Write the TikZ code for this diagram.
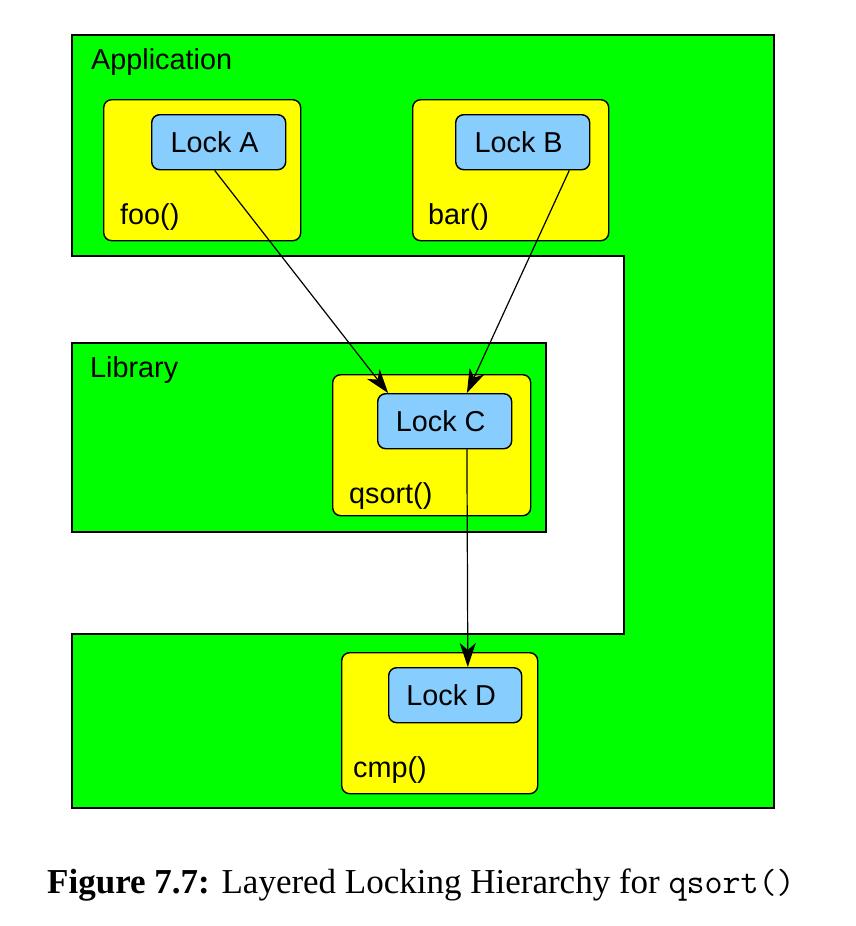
\documentclass[tikz,border=0pt]{standalone}
\usepackage{fontspec}
\setmainfont{Liberation Serif}
\newfontfamily\arialfont{Liberation Sans}
\usetikzlibrary{arrows.meta,calc}
\definecolor{figgreen}{RGB}{0,255,0}
\definecolor{figyellow}{RGB}{255,255,0}
\definecolor{figblue}{RGB}{135,206,255}
\tikzset{
  region/.style={draw=black, fill=figgreen, line width=1.2pt},
  funcbox/.style={draw=black, fill=figyellow, line width=1.4pt, rounded corners=8pt,
    rectangle, minimum width=#1, minimum height=141pt, inner sep=0pt, anchor=north west},
  lockbox/.style={draw=black, fill=figblue, line width=1.4pt, rounded corners=8pt,
    rectangle, minimum width=134pt, minimum height=55pt, inner sep=0pt, anchor=north west,
    font=\arialfont\fontsize{28.8}{30}\selectfont},
  lbl/.style={anchor=base west, inner sep=0pt, font=\arialfont\fontsize{28.8}{30}\selectfont},
  dep/.style={line width=1.2pt, -{Stealth[length=24pt,width=16pt,inset=7pt]}}
}
\begin{document}
\begin{tikzpicture}[x=1pt,y=-1pt]
\useasboundingbox (0,0) rectangle (856,926);
% Application region
\draw[region] (72,35) -- (774,35) -- (774,808) -- (72,808) -- (72,634)
  -- (624,634) -- (624,256) -- (72,256) -- cycle;
% Library region
\draw[region] (72,343) rectangle (546,532);
\node[lbl] (app) at (91,69) {Application};
\node[lbl] (lib) at (90,377) {Library};
% function boxes
\node[funcbox=197pt] (foo) at (103,99) {};
\node[funcbox=196pt] (bar) at (412,99) {};
\node[funcbox=198pt] (qsort) at (332,374) {};
\node[funcbox=196pt] (cmp) at (341,652) {};
\node[lbl] (foolbl) at (120,224) {foo()};
\node[lbl] (barlbl) at (428,224) {bar()};
\node[lbl] (qsortlbl) at (349,503) {qsort()};
\node[lbl] (cmplbl) at (353,777) {cmp()};
% locks
\node[lockbox] (lockA) at (151,114) {\hspace*{-8pt}Lock A};
\node[lockbox] (lockB) at (455,114) {\hspace*{-8pt}Lock B};
\node[lockbox] (lockC) at (377,393) {\hspace*{-8pt}Lock C};
\node[lockbox,minimum width=133pt] (lockD) at (388,667) {\hspace*{-8pt}Lock D};
% dependencies
\draw[dep] ($(lockA.south west)!0.47!(lockA.south east)$) -- ($(lockC.north west)!0.082!(lockC.north east)$);
\draw[dep] ($(lockB.south west)!0.844!(lockB.south east)$) -- ($(lockC.north west)!0.664!(lockC.north east)$);
\draw[dep] ($(lockC.south west)!0.664!(lockC.south east)$) -- ($(lockD.north west)!0.594!(lockD.north east)$);
% caption
\node[anchor=base, inner sep=0pt, font=\fontsize{35}{40}\selectfont] (cap) at (421,893)
  {\textbf{Figure 7.7:} Layered Locking Hierarchy for \texttt{qsort()}};
\end{tikzpicture}
\end{document}
